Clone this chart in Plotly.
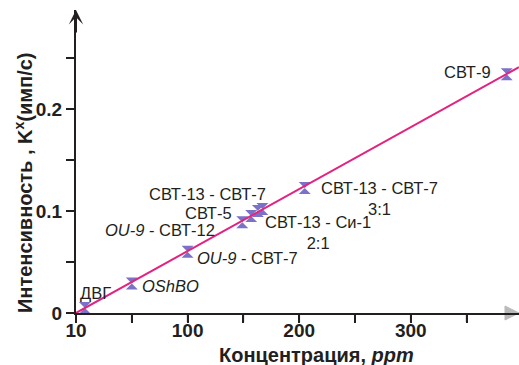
import plotly.graph_objects as go

# ---- data ----
conc = [8, 50, 100, 149, 157, 163, 167, 205, 386]          # ppm (position on axis)
intensity = [0.005, 0.029, 0.060, 0.089, 0.095, 0.100, 0.102, 0.1225, 0.234]
fit_x = [0, 397]
fit_y = [0.0, 0.241]

labels = [
    "ДВГ",
    "<i>OShBO</i>",
    "<i>OU-9</i> - СВТ-7",
    "<i>OU-9</i> - СВТ-12",
    "СВТ-5",
    "СВТ-13 - Си-1<br>2:1",
    "СВТ-13 - СВТ-7",
    "СВТ-13 - СВТ-7<br>3:1",
    "СВТ-9",
]
# label placement: (xanchor, xshift px, yshift px, align)
label_pos = [
    ("center", 11, 15, "center"),
    ("left", 8, -3, "left"),
    ("left", 7, -6, "left"),
    ("right", -25, -8, "left"),
    ("right", -17, 3, "left"),
    ("left", 5, -22, "center"),
    ("right", 6, 15, "left"),
    ("left", 14, -10, "center"),
    ("right", -14, 2, "left"),
]

xtick_vals = [0, 50, 100, 150, 200, 250, 300, 350]
xtick_text = ["<b>10</b>", " ", "<b>100</b>", " ", "<b>200</b>", " ", "<b>300</b>", " "]
ytick_vals = [0, 0.05, 0.1, 0.15, 0.2, 0.25]
ytick_text = ["<b>0</b>", " ", "<b>0.1</b>", " ", "<b>0.2</b>", " "]

x_title = "Концентрация, <i>ppm</i>"
y_title = "Интенсивность , K<sup>x</sup>(имп/с)"

FONT = "Liberation Sans, Arial, sans-serif"
DARK = "#231f20"

X_RANGE = [0, 397]
Y_RANGE = [0, 0.297]
W, H = 519, 365
M = dict(l=76, r=0, t=10, b=52)
PLOT_W = W - M["l"] - M["r"]
PLOT_H = H - M["t"] - M["b"]
TICK_PX = 8

fig = go.Figure()
fig.add_trace(go.Scatter(
    x=conc, y=intensity, mode="markers",
    marker=dict(symbol="hourglass", size=12, color="#7b72c8"),
    showlegend=False, hoverinfo="skip",
))
fig.add_trace(go.Scatter(
    x=fit_x, y=fit_y, mode="lines",
    line=dict(color="#e2237f", width=2),
    showlegend=False, hoverinfo="skip",
))

# tick marks as shapes too (outside the plot area), from the tick value lists
for v in xtick_vals:
    fig.add_shape(type="line", xref="x", yref="paper", x0=v, x1=v,
                  y0=0, y1=-(TICK_PX + 1) / PLOT_H,
                  line=dict(color=DARK, width=2), layer="above")
for v in ytick_vals:
    fig.add_shape(type="line", xref="paper", yref="y", y0=v, y1=v,
                  x0=0, x1=-(TICK_PX + 1) / PLOT_W,
                  line=dict(color=DARK, width=2), layer="above")

# x-axis arrowhead (paper-space triangle with its tip at the axis end)
ah_len, ah_half = 14 / PLOT_W, 7 / PLOT_H
fig.add_shape(type="path", xref="paper", yref="paper",
              path=f"M1,0 L{1 - ah_len},{ah_half} L{1 - ah_len},{-ah_half} Z",
              fillcolor=DARK, line=dict(color=DARK, width=1), layer="above")

for xv, yv, txt, (xa, xs, ys, al) in zip(conc, intensity, labels, label_pos):
    fig.add_annotation(x=xv, y=yv, xref="x", yref="y", text=txt,
                       showarrow=False, xanchor=xa, yanchor="middle",
                       xshift=xs, yshift=ys, align=al,
                       font=dict(family=FONT, size=16.5, color=DARK))

# axis titles
fig.add_annotation(x=0.544, y=0, xref="paper", yref="paper",
                   text="<b>" + x_title + "</b>",
                   showarrow=False, xanchor="center", yanchor="middle",
                   yshift=-42, font=dict(family=FONT, size=20, color=DARK))
fig.add_annotation(x=0, y=0.429, xref="paper", yref="paper",
                   text="<b>" + y_title + "</b>",
                   showarrow=False, textangle=-90, xanchor="center",
                   yanchor="middle", xshift=-53,
                   font=dict(family=FONT, size=20, color=DARK))

# y-axis arrowhead
fig.add_annotation(x=0, y=1, xref="paper", yref="paper", ax=0, ay=24,
                   text="", showarrow=True, arrowhead=3, arrowsize=1.2,
                   arrowwidth=2, arrowcolor=DARK, standoff=0)

fig.update_xaxes(range=X_RANGE, tickmode="array", tickvals=xtick_vals,
                 ticktext=xtick_text,
                 ticks="outside", ticklen=TICK_PX, tickwidth=2, tickcolor=DARK,
                 showline=True, linewidth=2, linecolor=DARK,
                 showgrid=False, zeroline=False, ticklabelstandoff=-9,
                 tickfont=dict(family=FONT, size=19, color=DARK))
fig.update_yaxes(range=Y_RANGE, tickmode="array", tickvals=ytick_vals,
                 ticktext=ytick_text,
                 ticks="outside", ticklen=TICK_PX, tickwidth=2, tickcolor=DARK,
                 showline=True, linewidth=2, linecolor=DARK,
                 showgrid=False, zeroline=False,
                 tickfont=dict(family=FONT, size=19, color=DARK))

fig.update_layout(template="simple_white", width=W, height=H,
                  margin=dict(**M, autoexpand=False),
                  paper_bgcolor="white", plot_bgcolor="white",
                  showlegend=False, hovermode=False)

# remove the page's default 8px body margin so the figure fills the window
fig.write_html("out.html", config={"displayModeBar": False},
               post_script="document.body.style.margin='0';"
                           "document.body.style.overflow='hidden';")
